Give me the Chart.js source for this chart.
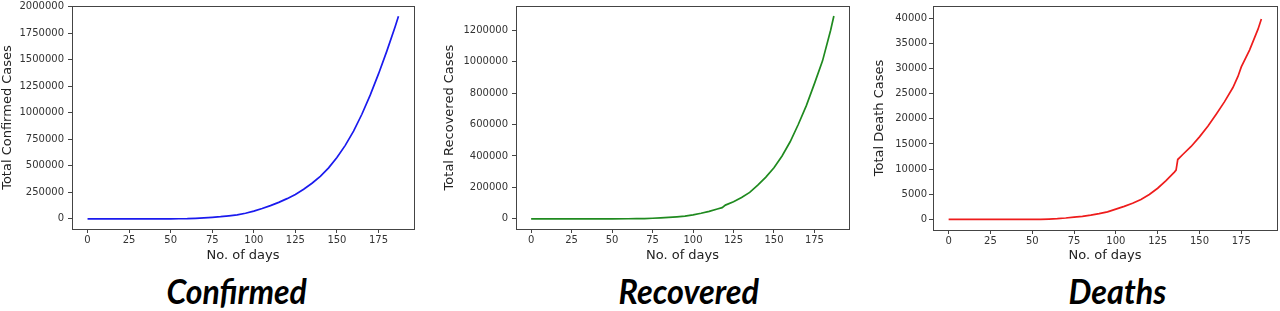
<!DOCTYPE html>
<html>
<head>
<meta charset="utf-8">
<script src="https://cdn.jsdelivr.net/npm/chart.js@4/dist/chart.umd.min.js"></script>
<style>
  html, body { margin:0; padding:0; background:#fff; width:1280px; height:311px; overflow:hidden; }
  .wrap { position:absolute; top:0; }
  .cap { position:absolute; top:270px; font-family:Lato, "Open Sans", sans-serif; font-weight:bold; font-style:italic;
         font-size:34px; line-height:normal; color:#000; white-space:nowrap; transform-origin:center; }
</style>
</head>
<body>
<div class="wrap" style="left:0px"><canvas id="c1" width="420" height="270"></canvas></div>
<div class="wrap" style="left:442px"><canvas id="c2" width="413" height="270"></canvas></div>
<div class="wrap" style="left:872px"><canvas id="c3" width="408" height="270"></canvas></div>
<div class="cap" id="t1">Confirmed</div>
<div class="cap" id="t2">Recovered</div>
<div class="cap" id="t3">Deaths</div>
<script>
// ---- data ----
const xTicks = [0, 25, 50, 75, 100, 125, 150, 175];

const confirmedDays   = [0, 10, 20, 30, 40, 45, 50, 55, 60, 65, 70, 75, 80, 85, 90, 95, 100, 105, 110, 115, 120, 125, 130, 135, 140, 145, 150, 155, 160, 165, 170, 175, 180, 185, 187];
const confirmedValues = [1, 3, 3, 3, 5, 60, 200, 600, 1600, 5000, 9000, 14000, 20000, 28000, 37000, 52000, 72000, 97000, 124000, 155000, 190000, 230000, 278000, 335000, 400000, 480000, 578000, 692000, 826000, 985000, 1165000, 1365000, 1580000, 1810000, 1908000];
const confirmedTicks  = [0, 250000, 500000, 750000, 1000000, 1250000, 1500000, 1750000, 2000000];

const recoveredDays   = [0, 10, 20, 30, 40, 50, 60, 65, 70, 75, 80, 85, 90, 95, 100, 105, 110, 115, 118, 120, 125, 130, 135, 140, 145, 150, 155, 160, 165, 170, 175, 180, 185, 187];
const recoveredValues = [0, 0, 0, 3, 3, 10, 100, 600, 1500, 3500, 6000, 9000, 12500, 17000, 25000, 35000, 47000, 62000, 71000, 87000, 108000, 135000, 168000, 214000, 265000, 325000, 400000, 490000, 600000, 720000, 860000, 1005000, 1200000, 1290000];
const recoveredTicks  = [0, 200000, 400000, 600000, 800000, 1000000, 1200000];

const deathsDays   = [0, 10, 20, 30, 40, 50, 55, 60, 65, 70, 75, 80, 85, 90, 95, 100, 105, 110, 115, 120, 125, 130, 135, 136, 137, 140, 145, 150, 155, 160, 165, 170, 173, 175, 180, 185, 187];
const deathsValues = [0, 0, 0, 0, 2, 10, 30, 80, 150, 280, 450, 620, 850, 1150, 1500, 2050, 2600, 3200, 3950, 4950, 6200, 7700, 9400, 9800, 11900, 12900, 14500, 16400, 18500, 20900, 23400, 26200, 28400, 30300, 33700, 37800, 39800];
const deathsTicks  = [0, 5000, 10000, 15000, 20000, 25000, 30000, 35000, 40000];

const frame = {
  id: 'frame',
  afterDatasetsDraw(chart) {
    const a = chart.chartArea, ctx = chart.ctx;
    ctx.save();
    ctx.strokeStyle = '#444';
    ctx.lineWidth = 1;
    ctx.strokeRect(Math.round(a.left) + 0.5, Math.round(a.top) + 0.5, Math.round(a.right - a.left), Math.round(a.bottom - a.top));
    ctx.restore();
  }
};

function makeChart(id, days, values, color, yTicks, yMin, yMax, yTitle, yWidth, padRight, plotBottom, yPad) {
  const pts = days.map((d, i) => ({x: d, y: values[i]}));
  const tickFont = {family: 'DejaVu Sans', size: 10};
  const titleFont = {family: 'DejaVu Sans', size: 13, lineHeight: 1};
  return new Chart(document.getElementById(id), {
    type: 'line',
    data: { datasets: [{ data: pts, borderColor: color, borderWidth: 1.7, pointRadius: 0, tension: 0, fill: false }] },
    options: {
      responsive: false, animation: false,
      layout: { padding: { top: 0, right: padRight, left: 0, bottom: 0 } },
      plugins: { legend: { display: false }, tooltip: { enabled: false } },
      scales: {
        x: {
          type: 'linear', min: -9.35, max: 196.35,
          afterBuildTicks: s => { s.ticks = xTicks.map(v => ({value: v})); },
          afterFit: s => { s.height = 270 - plotBottom; },
          grid: { drawOnChartArea: false, tickLength: 4, tickColor: '#444' },
          border: { color: '#444' },
          ticks: { font: tickFont, color: '#333', padding: 1, maxRotation: 0, callback: v => String(v) },
          title: { display: true, text: 'No. of days', font: titleFont, color: '#222', padding: { top: 0, bottom: 8 } }
        },
        y: {
          type: 'linear', min: yMin, max: yMax,
          afterBuildTicks: s => { s.ticks = yTicks.map(v => ({value: v})); },
          afterFit: s => { s.width = yWidth; s.paddingTop = 6; },
          grid: { drawOnChartArea: false, tickLength: 4, tickColor: '#444' },
          border: { color: '#444' },
          ticks: { font: tickFont, color: '#333', padding: yPad, callback: v => String(v) },
          title: { display: true, text: yTitle, font: titleFont, color: '#222', padding: { top: 1, bottom: 0 } }
        }
      }
    },
    plugins: [frame]
  });
}

makeChart('c1', confirmedDays, confirmedValues, '#1a1aee', confirmedTicks, -96000, 2005000, 'Total Confirmed Cases', 72, 6, 229, 4);
makeChart('c2', recoveredDays, recoveredValues, '#1f8a1f', recoveredTicks, -65000, 1354000, 'Total Recovered Cases', 74, 6, 229, 4);
makeChart('c3', deathsDays, deathsValues, '#ee1c1c', deathsTicks, -2100, 42400, 'Total Death Cases', 61, 3, 230, 2);

// captions centred under each chart, stretched to the reference widths
function place(id, cx, targetW) {
  const el = document.getElementById(id);
  const w = el.offsetWidth;
  el.style.left = (cx - w / 2) + 'px';
  el.style.transform = 'scaleX(' + (targetW / w) + ')';
}
place('t1', 236, 140);
place('t2', 688, 140);
place('t3', 1117, 98);
</script>
</body>
</html>
